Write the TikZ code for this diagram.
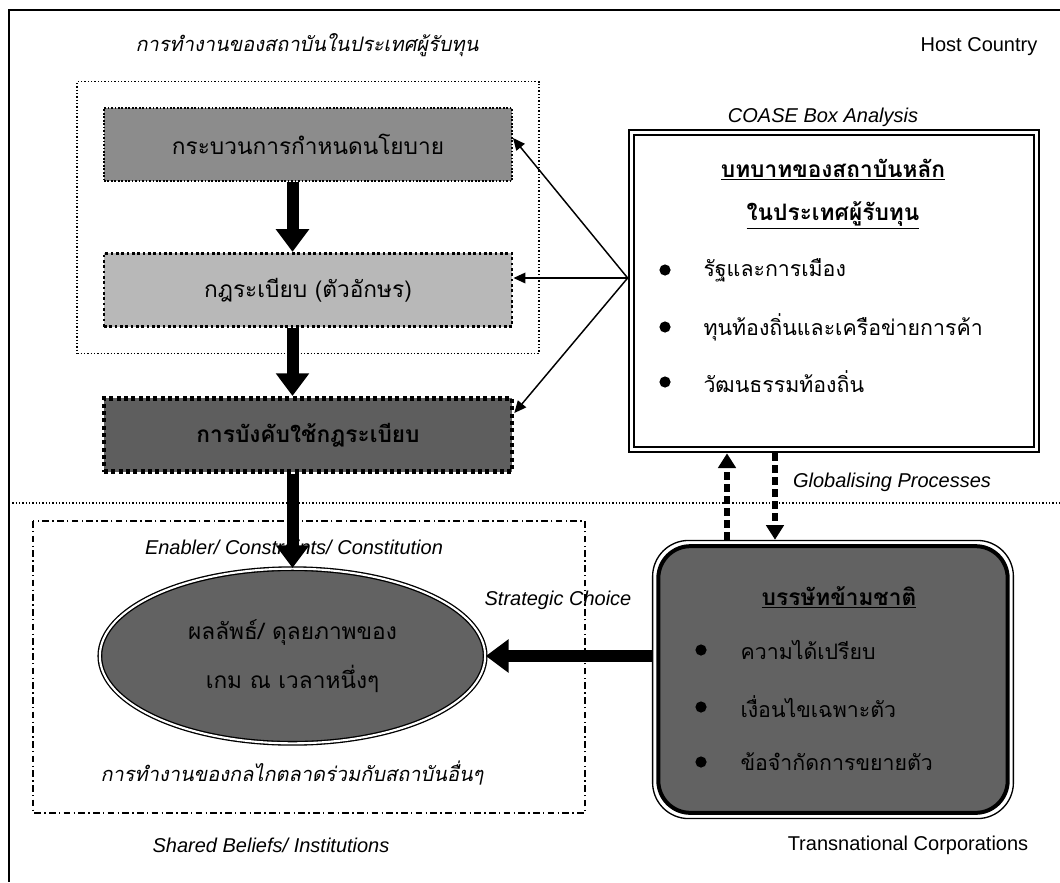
\documentclass[tikz,border=0pt]{standalone}
\usepackage{fontspec}
\setsansfont{Liberation Sans}
\newfontfamily\thaifont[Script=Thai]{Loma}
\newfontfamily\thaiit[Script=Thai,FakeSlant=0.2]{Loma}
\usetikzlibrary{arrows.meta,fit,shapes.geometric}
\definecolor{polgray}{HTML}{8C8C8C}
\definecolor{rulegray}{HTML}{B8B8B8}
\definecolor{enfgray}{HTML}{5E5E5E}
\definecolor{darkfill}{HTML}{626262}
\tikzset{every picture/.style={line width=0.75pt}}
\tikzset{
procbox/.style={rectangle, draw, minimum width=306pt, minimum height=55pt, font=\thaifont\fontsize{17}{20}\selectfont},
thaiitlabel/.style={inner sep=0pt, font=\thaiit\fontsize{15}{20}\selectfont},
englabel/.style={inner sep=0pt, font=\sffamily\fontsize{15}{18}\selectfont},
englabelit/.style={inner sep=0pt, font=\sffamily\itshape\fontsize{15}{18}\selectfont},
thaiitem/.style={inner sep=0pt, anchor=west, font=\thaifont\fontsize{16}{20}\selectfont},
thaihead/.style={inner sep=0pt, font=\thaifont\bfseries\fontsize{17}{20}\selectfont},
bigarrow/.style={line width=9pt, -{Triangle[width=24pt,length=17pt]}},
dasharrow/.style={line width=4pt, dash pattern=on 6pt off 3pt, -{Triangle[width=13pt,length=11pt]}},
thinarrow/.style={line width=1.1pt, -{Triangle[width=8pt,length=9pt]}}
}

\begin{document}
\begin{tikzpicture}[x=0.75pt,y=0.75pt,yscale=-1,xscale=1]
\useasboundingbox (0,0) rectangle (1060,882);

%Frame
\draw[line width=1.5pt] (1060,10) -- (9,10) -- (9,882);
%Divider: Host Country / Transnational
\draw[line width=1.2pt, dash pattern=on 1pt off 1.5pt] (9,503) -- (1060,503);
%Shape: dash dot box
\draw[line width=0.9pt, dash pattern=on 5pt off 2.5pt on 1pt off 2.5pt] (33,521) rectangle (585,813);

%Boxes of the host country
\node[procbox, fill=polgray, line width=1.5pt, dash pattern=on 1.3pt off 1.3pt] (pol) at (308,144.5) {กระบวนการกำหนดนโยบาย};
\node[procbox, fill=rulegray, line width=2.2pt, dash pattern=on 2pt off 2pt] (rules) at (308,290) {กฎระเบียบ (ตัวอักษร)};
\node[procbox, fill=enfgray, line width=3.5pt, dash pattern=on 3pt off 2.5pt, font=\thaifont\bfseries\fontsize{17}{20}\selectfont] (enf) at (308,435) {การบังคับใช้กฎระเบียบ};
\node[fit=(pol)(rules), inner sep=19pt, draw, line width=1.2pt, dash pattern=on 1pt off 1.5pt] (polgroup) {};

%Ellipse
\node[ellipse, minimum width=289pt, minimum height=131pt, fill=darkfill, draw, double=white, double distance=1.6pt, line width=1pt, align=center, font=\thaifont\fontsize{17}{37}\selectfont] (ell) at (292.5,656) {ผลลัพธ์/ ดุลยภาพของ\\เกม ณ เวลาหนึ่งๆ};

%COASE box
\node[rectangle, draw, line width=1.1pt, minimum width=300pt, minimum height=234pt] (coase) at (834,291) {};
\node[fit=(coase), inner sep=3.2pt, draw, line width=2pt] (coaseframe) {};
\node[thaihead] (coaseh1) at (833,170) {\underline{บทบาทของสถาบันหลัก}};
\node[thaihead] (coaseh2) at (833,215) {\underline{ในประเทศผู้รับทุน}};
\node[thaiitem] (c1) at (703,270) {รัฐและการเมือง};
\node[thaiitem] (c2) at (703,327) {ทุนท้องถิ่นและเครือข่ายการค้า};
\node[thaiitem] (c3) at (703,382) {วัฒนธรรมท้องถิ่น};
\foreach \c in {c1,c2,c3}
  \fill (665,0 |- \c) circle (4.2pt);

%TNC box
\node[rectangle, rounded corners=24pt, draw, line width=3pt, fill=darkfill, minimum width=262pt, minimum height=200pt] (tnc) at (833,679.5) {};
\node[fit=(tnc), inner sep=2.8pt, draw, line width=1pt, rounded corners=27pt] (tncframe) {};
\node[thaihead] (tnch) at (839,597) {\underline{บรรษัทข้ามชาติ}};
\node[thaiitem] (t1) at (740,650) {ความได้เปรียบ};
\node[thaiitem] (t2) at (740,707) {เงื่อนไขเฉพาะตัว};
\node[thaiitem] (t3) at (740,762) {ข้อจำกัดการขยายตัว};
\foreach \t in {t1,t2,t3}
  \fill (701,0 |- \t) circle (4.2pt);

%Labels
\node[thaiitlabel] (hosttitle) at (307,45) {การทำงานของสถาบันในประเทศผู้รับทุน};
\node[englabel] (hostlbl) at (979,47) {Host Country};
\node[englabelit] (coaselbl) at (823,117) {COASE Box Analysis};
\node[englabelit] (enablbl) at (294,547) {Enabler/ Constraints/ Constitution};
\node[englabelit] (stratlbl) at (558,600) {Strategic Choice};
\node[englabelit] (globlbl) at (892,482) {Globalising Processes};
\node[englabelit] (sharedlbl) at (271,845) {Shared Beliefs/ Institutions};
\node[englabel] (tnclbl) at (908,845) {Transnational Corporations};
\node[thaiitlabel] (marketlbl) at (292,773) {การทำงานของกลไกตลาดร่วมกับสถาบันอื่นๆ};

%Arrows
\draw[bigarrow] (pol.south -| ell.north) -- (rules.north -| ell.north);
\draw[bigarrow] (rules.south -| ell.north) -- (enf.north -| ell.north);
\draw[bigarrow] (enf.south -| ell.north) -- (ell.north);
\draw[bigarrow] (tncframe.west |- ell.east) -- (ell.east);
\coordinate (fan) at (coaseframe.west |- 0,278);
\draw[thinarrow] (fan) -- (pol.east |- 0,138);
\draw[thinarrow] (fan) -- (rules.east |- 0,278);
\draw[thinarrow] (fan) -- (enf.east |- 0,413);
\draw[dasharrow] (tncframe.north -| 727,0) -- (coaseframe.south -| 727,0);
\draw[dasharrow] (coaseframe.south -| 775,0) -- (tncframe.north -| 775,0);

\end{tikzpicture}
\end{document}
